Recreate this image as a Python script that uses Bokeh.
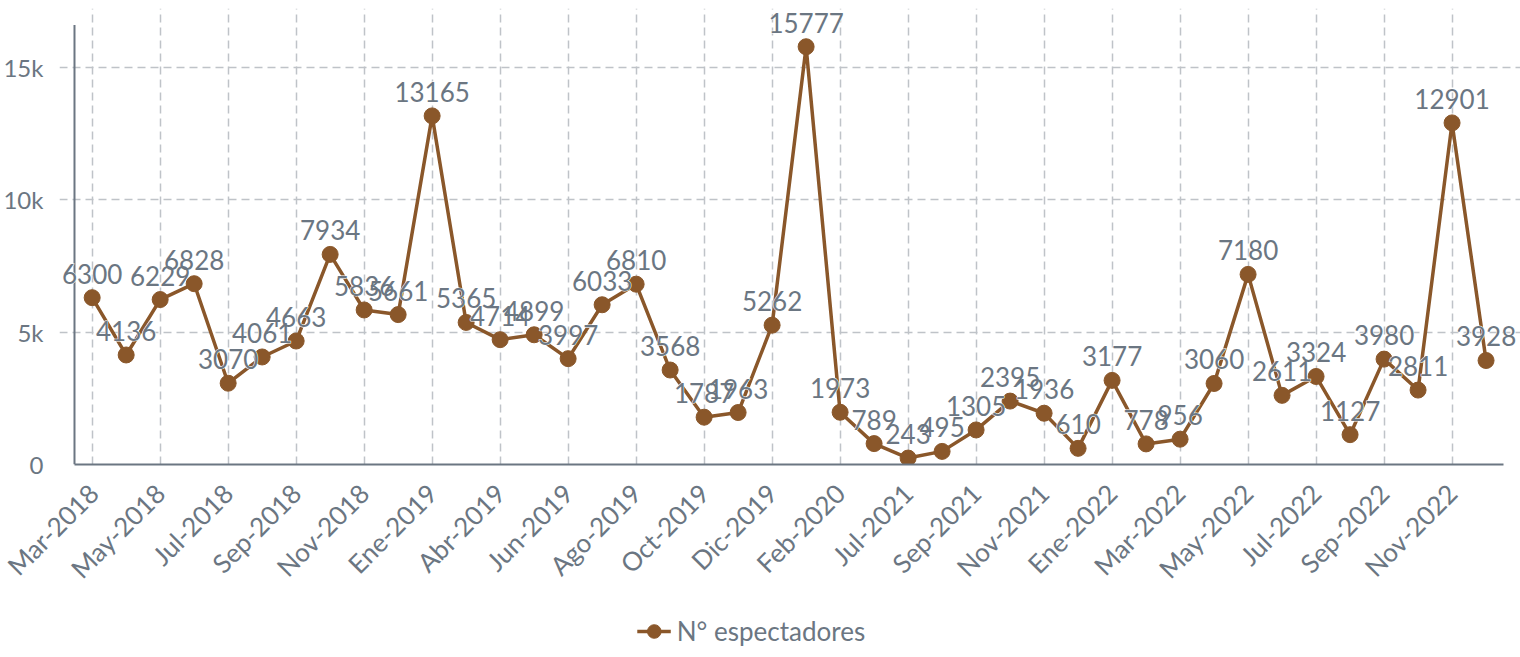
import math
from bokeh.plotting import figure
from bokeh.layouts import column
from bokeh.models import ColumnDataSource, FixedTicker, Legend, LegendItem, Range1d
from bokeh.embed import file_html
from bokeh.resources import INLINE
from bokeh.core.properties import value

months = ["Mar-2018", "Abr-2018", "May-2018", "Jun-2018", "Jul-2018", "Ago-2018",
          "Sep-2018", "Oct-2018", "Nov-2018", "Dic-2018", "Ene-2019", "Feb-2019",
          "Abr-2019", "May-2019", "Jun-2019", "Jul-2019", "Ago-2019", "Sep-2019",
          "Oct-2019", "Nov-2019", "Dic-2019", "Ene-2020", "Feb-2020", "Mar-2020",
          "Jul-2021", "Ago-2021", "Sep-2021", "Oct-2021", "Nov-2021", "Dic-2021",
          "Ene-2022", "Feb-2022", "Mar-2022", "Abr-2022", "May-2022", "Jun-2022",
          "Jul-2022", "Ago-2022", "Sep-2022", "Oct-2022", "Nov-2022", "Dic-2022"]
espectadores = [6300, 4136, 6229, 6828, 3070, 4061, 4663, 7934, 5836, 5661, 13165, 5365,
                4714, 4899, 3997, 6033, 6810, 3568, 1787, 1963, 5262, 15777, 1973, 789,
                243, 495, 1305, 2395, 1936, 610, 3177, 778, 956, 3060, 7180, 2611,
                3324, 1127, 3980, 2811, 12901, 3928]
y_ticks = [0, 5000, 10000, 15000]
y_tick_labels = ["0", "5k", "10k", "15k"]
series_name = "N° espectadores"

FONT = "Lato"
TXT = "#6b7682"
LINE = "#8a572a"
GRID = "#bfc3c8"

n = len(months)
idx = list(range(n))
src = ColumnDataSource(dict(x=idx, y=espectadores, label=[str(v) for v in espectadores]))

# plotting area bounds (data units) -- the frame is slightly larger so labels are not clipped
x_lo, x_hi = -0.52, n - 1 + 0.52
y_top = 16600

p = figure(width=1520, height=610, output_backend="svg", toolbar_location=None,
           x_range=Range1d(-0.961, 42.013), y_range=Range1d(0, 17221),
           min_border_left=58, min_border_right=0, min_border_top=8, min_border_bottom=146)
p.outline_line_color = None

p.segment(x0=[x_lo], y0=[0], x1=[x_lo], y1=[y_top], line_color=TXT, line_width=2)

ln = p.line("x", "y", source=src, line_color=LINE, line_width=3.5)
sc = p.scatter("x", "y", source=src, size=16, fill_color=LINE, line_color=LINE)
p.text("x", "y", text="label", source=src, text_align="center", text_baseline="alphabetic",
       y_offset=-24, text_font=value(FONT), text_font_size="26px", text_color="white",
       text_outline_color="white")
p.text("x", "y", text="label", source=src, text_align="center", text_baseline="alphabetic",
       y_offset=-24, text_font=value(FONT), text_font_size="26px", text_color=TXT)

# axes
p.xaxis.ticker = FixedTicker(ticks=idx[::2])
p.xaxis.major_label_overrides = {i: months[i] for i in idx[::2]}
p.xaxis.major_label_orientation = math.pi / 4
p.xaxis.bounds = (x_lo, x_hi)
p.yaxis.ticker = FixedTicker(ticks=y_ticks)
p.yaxis.major_label_overrides = {t: l for t, l in zip(y_ticks, y_tick_labels)}
for ax in (p.xaxis, p.yaxis):
    ax.axis_line_color = TXT
    ax.axis_line_width = 2
    ax.major_tick_line_color = None
    ax.minor_tick_line_color = None
    ax.major_tick_out = 0
    ax.major_tick_in = 0
    ax.major_label_text_font = FONT
    ax.major_label_text_color = TXT
p.yaxis.axis_line_color = None
p.xaxis.major_label_text_font_size = "26px"
p.yaxis.major_label_text_font_size = "24px"
p.xaxis.major_label_standoff = 24
p.yaxis.major_label_standoff = 16

p.xgrid.grid_line_color = GRID
p.xgrid.grid_line_dash = "8 5"
p.xgrid.grid_line_width = 1.5
p.xgrid.bounds = (0, y_top)
p.ygrid.grid_line_color = GRID
p.ygrid.grid_line_dash = "8 5"
p.ygrid.grid_line_width = 1.5
p.ygrid.bounds = (x_lo, x_hi)

# legend strip below the chart (its sample glyphs sit outside the visible range)
lg = figure(width=1443, height=42, output_backend="svg", toolbar_location=None,
            x_axis_type=None, y_axis_type=None, x_range=Range1d(0, 1), y_range=Range1d(0, 1),
            min_border=0)
lg.outline_line_color = None
lg.grid.visible = False
l_ln = lg.line(x=[5, 6], y=[5, 5], line_color=LINE, line_width=3.5)
l_sc = lg.scatter(x=[5], y=[5], size=16, fill_color=LINE, line_color=LINE)
legend = Legend(items=[LegendItem(label=series_name, renderers=[l_ln, l_sc])],
                location="center", orientation="horizontal",
                border_line_color=None, background_fill_alpha=0,
                label_text_font=FONT, label_text_font_size="26px", label_text_color=TXT,
                glyph_width=34, glyph_height=40, label_standoff=6, padding=0, margin=0)
lg.add_layout(legend, "center")

open("out.html", "w").write(file_html(column(p, lg, spacing=0), INLINE))
